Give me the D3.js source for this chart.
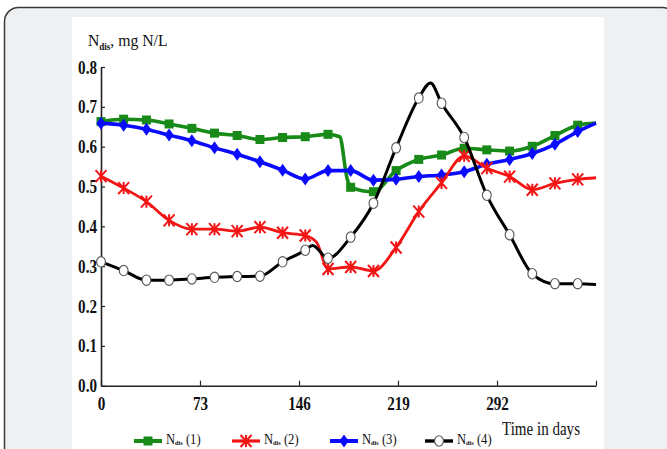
<!DOCTYPE html>
<html><head><meta charset="utf-8">
<script src="https://cdn.jsdelivr.net/npm/d3@7"></script>
<style>html,body{margin:0;padding:0;background:#fff;} svg{display:block;}</style>
</head><body>
<svg id="c" width="667" height="449"></svg>
<script>
// ---- data ----
const days = [0, 16.7, 33.5, 50.2, 67, 83.7, 100.4, 117.2, 133.9, 150.6, 167.4, 184.1, 200.9, 217.6, 234.3, 251.1, 267.8, 284.5, 301.3, 318, 334.7, 351.5, 365];
const markerCount = 22;
const seriesLabels = ["(1)", "(2)", "(3)", "(4)"];
const green = [0.663, 0.669, 0.667, 0.657, 0.646, 0.634, 0.628, 0.618, 0.623, 0.625, 0.631, 0.498, 0.487, 0.540, 0.568, 0.579, 0.596, 0.592, 0.589, 0.601, 0.628, 0.654, 0.659];
const red = [0.526, 0.496, 0.462, 0.415, 0.393, 0.393, 0.388, 0.398, 0.384, 0.377, 0.293, 0.298, 0.288, 0.347, 0.437, 0.509, 0.577, 0.546, 0.525, 0.492, 0.508, 0.518, 0.522];
const blue = [0.659, 0.654, 0.644, 0.629, 0.615, 0.597, 0.581, 0.562, 0.541, 0.519, 0.540, 0.540, 0.516, 0.518, 0.525, 0.529, 0.537, 0.556, 0.568, 0.583, 0.606, 0.638, 0.659];
const black = [0.311, 0.289, 0.265, 0.265, 0.268, 0.272, 0.274, 0.275, 0.311, 0.340, 0.320, 0.373, 0.458, 0.597, 0.722, 0.709, 0.623, 0.478, 0.379, 0.281, 0.256, 0.256, 0.254];
// line-only points (no marker)
const greenExtra = [[176, 0.625], [181.5, 0.52]];
const redExtra = [[159, 0.36]];
const blueExtra = [];
const blackExtra = [[156, 0.352], [243, 0.760]];
const xTicks = [0, 73, 146, 219, 292, 365];
const xTickLabels = ["0", "73", "146", "219", "292", ""];
const yTicks = [0, 0.1, 0.2, 0.3, 0.4, 0.5, 0.6, 0.7, 0.8];

// ---- drawing ----
const svg = d3.select("#c");
const FONT = "'Liberation Serif','Times New Roman',serif";

svg.append("rect").attr("x", 4.5).attr("y", 7.5).attr("width", 672).attr("height", 470)
  .attr("rx", 14).attr("fill", "#eef0f2").attr("stroke", "#3a3a3a").attr("stroke-width", 1.5);
svg.append("rect").attr("x", 72).attr("y", 17).attr("width", 532).attr("height", 440).attr("fill", "#fff");

const x = d3.scaleLinear().domain([0, 365]).range([101, 596]);
const y = d3.scaleLinear().domain([0, 0.8]).range([385.7, 67]);

// axes
const yAxis = svg.append("g").attr("transform", `translate(${x(0)},0)`)
  .call(d3.axisLeft(y).tickValues(yTicks).tickSize(-4).tickSizeOuter(0).tickFormat(d3.format(".1f")));
const xAxis = svg.append("g").attr("transform", `translate(0,${y(0)})`)
  .call(d3.axisBottom(x).tickValues(xTicks).tickSize(-5).tickSizeOuter(0).tickFormat((d, i) => xTickLabels[i]));
[yAxis, xAxis].forEach(g => {
  g.select(".domain").attr("stroke", "#222").attr("stroke-width", 1.6);
  g.selectAll(".tick line").attr("stroke", "#222").attr("stroke-width", 1.2);
  g.selectAll("text").attr("font-family", FONT).attr("font-weight", "bold").attr("font-size", 18).attr("fill", "#111");
});
yAxis.selectAll(".tick text").attr("x", null).attr("dy", "0.34em")
  .attr("transform", "translate(-4,0) scale(0.84,1)");
xAxis.selectAll(".tick text").attr("y", 0).attr("dy", null)
  .attr("transform", "translate(0,24) scale(0.84,1)");

// titles
const t = svg.append("text").attr("x", 88).attr("y", 46).attr("font-family", FONT).attr("font-size", 17.5).attr("fill", "#111")
  .attr("transform", "translate(88,0) scale(0.9,1) translate(-88,0)");
t.append("tspan").text("N");
t.append("tspan").attr("font-size", 10).attr("font-weight", "bold").attr("dy", 4).text("dis");
t.append("tspan").attr("dy", -4).text(", mg N/L");

svg.append("text").attr("x", 502).attr("y", 435).attr("font-family", FONT).attr("font-size", 19).attr("fill", "#111")
  .attr("textLength", 78).attr("lengthAdjust", "spacingAndGlyphs").text("Time in days");

// series
const line = d3.line().x(d => x(d[0])).y(d => y(d[1])).curve(d3.curveMonotoneX);
const series = [
  {vals: green, extra: greenExtra, color: "#178a17", width: 3.6, marker: "square"},
  {vals: blue, extra: blueExtra, color: "#0a0aff", width: 3.6, marker: "diamond"},
  {vals: red, extra: redExtra, color: "#f41414", width: 2.8, marker: "star"},
  {vals: black, extra: blackExtra, color: "#000", width: 3.0, marker: "circle"}
];

function drawMarker(g, type, cx, cy, color) {
  if (type === "square") {
    g.append("rect").attr("x", cx - 4.5).attr("y", cy - 4.5).attr("width", 9).attr("height", 9).attr("fill", color);
  } else if (type === "diamond") {
    g.append("path").attr("d", `M${cx},${cy - 6.5}L${cx + 4.6},${cy}L${cx},${cy + 6.5}L${cx - 4.6},${cy}Z`).attr("fill", color);
  } else if (type === "star") {
    g.append("path").attr("d", `M${cx - 5.5},${cy - 6}L${cx + 5.5},${cy + 6}M${cx - 5.5},${cy + 6}L${cx + 5.5},${cy - 6}M${cx},${cy - 6}L${cx},${cy + 6}`)
      .attr("stroke", color).attr("stroke-width", 2).attr("fill", "none");
  } else {
    g.append("ellipse").attr("cx", cx).attr("cy", cy).attr("rx", 4.4).attr("ry", 5.2)
      .attr("fill", "#fff").attr("stroke", "#555").attr("stroke-width", 1.1);
  }
}

series.forEach(s => {
  const pts = days.map((d, i) => [d, s.vals[i]]).concat(s.extra).sort((a, b) => a[0] - b[0]);
  const g = svg.append("g");
  g.append("path").attr("d", line(pts)).attr("fill", "none").attr("stroke", s.color)
    .attr("stroke-width", s.width).attr("stroke-linejoin", "round");
  for (let i = 0; i < markerCount; i++) drawMarker(g, s.marker, x(days[i]), y(s.vals[i]), s.color);
});

// legend: (1) green, (2) red, (3) blue, (4) black
const legendX = [134, 232, 330, 425];
const legendOrder = [0, 2, 1, 3];
legendOrder.forEach((si, k) => {
  const s = series[si];
  const g = svg.append("g");
  const lx = legendX[k], ly = 441;
  g.append("line").attr("x1", lx).attr("x2", lx + 28).attr("y1", ly).attr("y2", ly)
    .attr("stroke", s.color).attr("stroke-width", s.width + 0.4);
  drawMarker(g, s.marker, lx + 14, ly, s.color);
  const tx = g.append("text").attr("x", lx + 32).attr("y", 444.5).attr("font-family", FONT).attr("font-size", 14).attr("fill", "#111")
    .attr("transform", `translate(${lx + 32},0) scale(0.9,1) translate(${-(lx + 32)},0)`);
  tx.append("tspan").text("N");
  tx.append("tspan").attr("font-size", 7).attr("font-weight", "bold").attr("dy", 1).text("dis");
  tx.append("tspan").attr("dy", -1).text(" " + seriesLabels[k]);
});
</script>
</body></html>
